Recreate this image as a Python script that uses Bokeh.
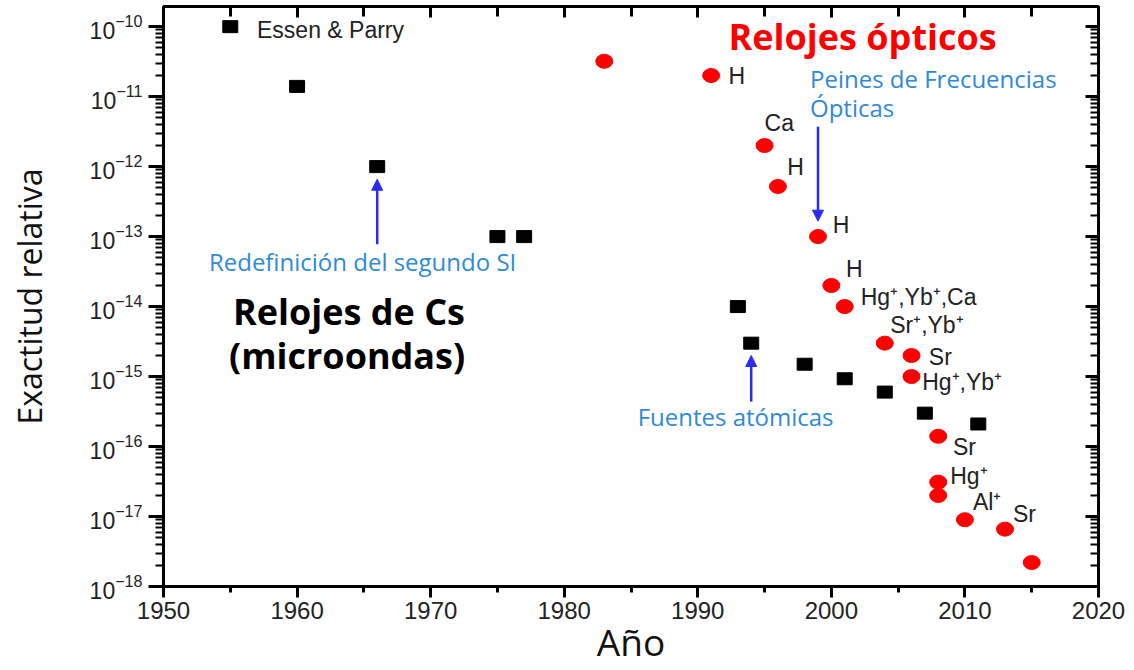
from bokeh.plotting import figure
from bokeh.models import (LogAxis, LinearAxis, FixedTicker, Label, Arrow, NormalHead,
                          ColumnDataSource, Range1d)
from bokeh.embed import file_html
from bokeh.resources import INLINE

# --- data -------------------------------------------------------------
cs_years = [1955, 1960, 1966, 1975, 1977, 1993, 1994, 1998, 2001, 2004, 2007, 2011]
cs_acc = [1e-10, 1.4e-11, 1e-12, 1e-13, 1e-13, 1e-14, 3e-15, 1.5e-15, 9.3e-16, 6e-16, 3e-16, 2.1e-16]

opt_years = [1983, 1991, 1995, 1996, 1999, 2000, 2001, 2004, 2006, 2006, 2008, 2008, 2008, 2010, 2013, 2015]
opt_acc = [3.2e-11, 2e-11, 2e-12, 5.2e-13, 1e-13, 2e-14, 1e-14, 3e-15, 2e-15, 1e-15,
           1.4e-16, 3.1e-17, 2e-17, 9e-18, 6.6e-18, 2.2e-18]

x_ticks = [1950, 1960, 1970, 1980, 1990, 2000, 2010, 2020]
x_minor = [1955, 1965, 1975, 1985, 1995, 2005, 2015]
y_ticks = [1e-18, 1e-17, 1e-16, 1e-15, 1e-14, 1e-13, 1e-12, 1e-11, 1e-10]
y_minor = [m * d for d in [1e-19, 1e-18, 1e-17, 1e-16, 1e-15, 1e-14, 1e-13, 1e-12, 1e-11, 1e-10]
           for m in range(2, 10)]

# point labels: (text, year, value)
pt_labels = [
    ("Essen & Parry", 1957.0, 9.1e-11),
    ("H", 1992.3, 2.0e-11),
    ("Ca", 1995.0, 4.2e-12),
    ("H", 1996.7, 9.8e-13),
    ("H", 2000.1, 1.45e-13),
    ("H", 2001.1, 3.4e-14),
    ("Hg\u207a,Yb\u207a,Ca", 2002.2, 1.39e-14),
    ("Sr\u207a,Yb\u207a", 2004.4, 5.5e-15),
    ("Sr", 2007.3, 1.92e-15),
    ("Hg\u207a,Yb\u207a", 2006.8, 8.4e-16),
    ("Sr", 2009.1, 1.0e-16),
    ("Hg\u207a", 2008.9, 3.8e-17),
    ("Al\u207a", 2010.6, 1.6e-17),
    ("Sr", 2013.6, 1.1e-17),
]

BLUE_TXT = "#2F8AD6"
ARROW = "#2B2BF0"

# --- figure -------------------------------------------------------------
p = figure(width=1134, height=670, y_axis_type="log",
           x_range=Range1d(1950, 2020), y_range=Range1d(1e-18, 1.94e-10),
           output_backend="svg", toolbar_location=None,
           min_border_left=163, min_border_right=36, min_border_top=6, min_border_bottom=84)
p.grid.visible = False
p.outline_line_color = "black"
p.outline_line_width = 3
p.background_fill_color = "white"
p.border_fill_color = "white"

# bottom axis
xa = p.xaxis[0]
xa.ticker = FixedTicker(ticks=x_ticks, minor_ticks=x_minor)
xa.axis_line_width = 3
xa.major_tick_line_width = 3
xa.minor_tick_line_width = 3
xa.major_tick_out = 11
xa.major_tick_in = 0
xa.minor_tick_out = 6
xa.minor_tick_in = 0
xa.major_label_text_font = "Liberation Sans"
xa.major_label_text_font_size = "24px"
xa.major_label_text_color = "#222222"
xa.major_label_standoff = 4
xa.axis_label = "Año"
xa.axis_label_text_font = "Open Sans"
xa.axis_label_text_font_style = "normal"
xa.axis_label_text_font_size = "37px"
xa.axis_label_text_color = "#111111"
xa.axis_label_standoff = -6

# left axis
ya = p.yaxis[0]
ya.ticker = FixedTicker(ticks=y_ticks, minor_ticks=y_minor)
ya.axis_line_width = 3
ya.major_tick_line_width = 3
ya.minor_tick_line_width = 2
ya.major_tick_out = 15
ya.major_tick_in = 0
ya.minor_tick_out = 8
ya.minor_tick_in = 0
ya.major_label_text_font = "Liberation Sans"
ya.major_label_text_font_size = "23px"
ya.major_label_text_color = "#222222"
ya.major_label_standoff = 6
ya.axis_label = "Exactitud relativa"
ya.axis_label_text_font = "Open Sans"
ya.axis_label_text_font_style = "normal"
ya.axis_label_text_font_size = "32px"
ya.axis_label_text_color = "#111111"
ya.axis_label_standoff = 36

# mirrored axes (ticks inward, labels hidden)
top = LinearAxis(ticker=FixedTicker(ticks=x_ticks, minor_ticks=x_minor),
                 major_tick_in=11, major_tick_out=0, minor_tick_in=10, minor_tick_out=0,
                 axis_line_width=3, major_tick_line_width=3, minor_tick_line_width=3,
                 major_label_text_font_size="1px", major_label_text_alpha=0,
                 major_label_standoff=0)
p.add_layout(top, "above")
right = LogAxis(ticker=FixedTicker(ticks=y_ticks, minor_ticks=y_minor),
                major_tick_in=13, major_tick_out=0, minor_tick_in=8, minor_tick_out=0,
                axis_line_width=3, major_tick_line_width=3, minor_tick_line_width=2,
                major_label_text_font_size="1px", major_label_text_alpha=0,
                major_label_standoff=0)
p.add_layout(right, "right")

# --- data marks -----------------------------------------------------------
cs_src = ColumnDataSource(dict(x=cs_years, y=cs_acc))
opt_src = ColumnDataSource(dict(x=opt_years, y=opt_acc))
p.rect("x", "y", width=15, height=12, width_units="screen", height_units="screen",
       source=cs_src, fill_color="black", line_color="black")
p.ellipse("x", "y", width=17, height=14, width_units="screen", height_units="screen",
          source=opt_src, fill_color="#FF0000", line_color="#FF0000")

# --- annotations -----------------------------------------------------------
for txt, xx, yy in pt_labels:
    p.add_layout(Label(x=xx, y=yy, text=txt, text_font="Liberation Sans",
                       text_font_size="23px", text_color="#222222",
                       text_baseline="middle", text_align="left"))

p.add_layout(Label(x=1992.3, y=7.2e-11, text="Relojes ópticos", text_font="Open Sans",
                   text_font_style="bold", text_font_size="36px", text_color="#FF0000",
                   text_baseline="middle"))
p.add_layout(Label(x=1955.2, y=8.5e-15, text="Relojes de Cs", text_font="Open Sans",
                   text_font_style="bold", text_font_size="36px", text_color="#000000",
                   text_baseline="middle"))
p.add_layout(Label(x=1954.9, y=2.0e-15, text="(microondas)", text_font="Open Sans",
                   text_font_style="bold", text_font_size="36px", text_color="#000000",
                   text_baseline="middle"))

for txt, xx, yy in [("Peines de Frecuencias", 1998.4, 1.8e-11),
                    ("Ópticas", 1998.4, 7.1e-12),
                    ("Redefinición del segundo SI", 1953.4, 4.4e-14),
                    ("Fuentes atómicas", 1985.5, 2.65e-16)]:
    p.add_layout(Label(x=xx, y=yy, text=txt, text_font="Open Sans", text_font_size="24px",
                       text_color=BLUE_TXT, text_baseline="middle"))

for xs, ys, xe, ye in [(1999.0, 3.7e-12, 1999.0, 1.66e-13),
                       (1966.0, 7.8e-14, 1966.0, 6.6e-13),
                       (1994.0, 4.4e-16, 1994.0, 2.0e-15)]:
    p.add_layout(Arrow(x_start=xs, y_start=ys, x_end=xe, y_end=ye,
                       line_color=ARROW, line_width=2.5,
                       end=NormalHead(size=11, fill_color=ARROW, line_color=ARROW)))

open("out.html", "w").write(file_html(p, INLINE))
